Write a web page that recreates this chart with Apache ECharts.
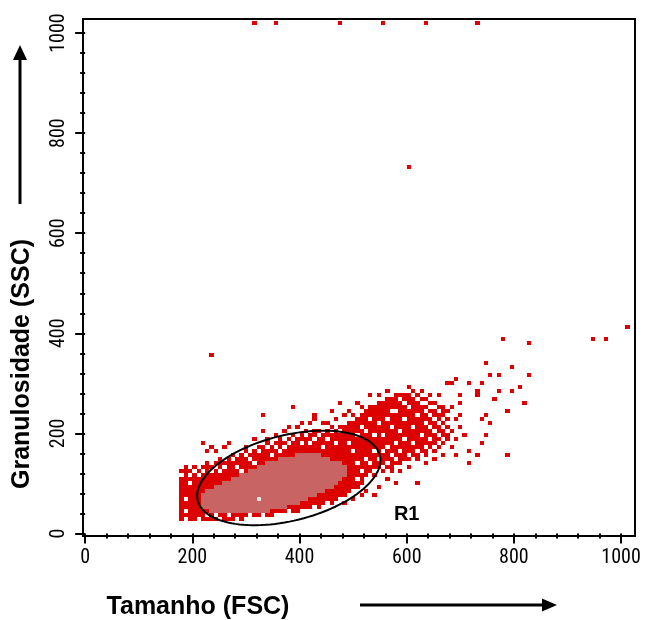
<!DOCTYPE html>
<html><head><meta charset="utf-8">
<script src="https://cdn.jsdelivr.net/npm/echarts@6/dist/echarts.min.js"></script>
<style>html,body{margin:0;padding:0;background:#fff}#chart{width:645px;height:620px}</style>
</head><body><div id="chart"></div>
<script>
// ---- data (channel units, 8-channel bins) ----
const BIN = 8;
const xTickValues = [0, 200, 400, 600, 800, 1000];
const yTickValues = [0, 200, 400, 600, 800, 1000];
const xMinorTicks = [40,80,120,160,240,280,320,360,440,480,520,560,640,680,720,760,840,880,920,960];
const yMinorTicks = [40,80,120,160,240,280,320,360,440,480,520,560,640,680,720,760,840,880,920,960];

// [FSC bin, SSC from, SSC to] – filled (red) columns
const redColumns = [
  [176,24,120],[184,24,128],[192,24,120],[200,24,128],[208,24,120],[216,24,128],[224,24,136],[232,24,128],
  [240,24,136],[248,24,144],[256,24,136],[264,24,144],[272,24,152],[280,24,144],[288,24,152],[296,32,160],
  [304,32,152],[312,32,160],[320,32,168],[328,32,168],[336,32,176],[344,32,168],[352,32,176],[360,40,184],
  [368,40,176],[376,40,184],[384,40,192],[392,40,184],[400,40,192],[408,48,200],[416,48,192],[424,48,200],
  [432,48,200],[440,56,192],[448,56,200],[456,56,208],[464,64,200],[472,64,208],[480,72,208],[488,72,216],
  [496,80,216],[504,88,224],[512,96,232],[520,104,240],[528,112,248],[536,112,248],[544,120,256],[552,120,256],
  [560,128,264],[568,128,264],[576,136,272],[584,136,272],[592,136,272],[600,144,272],[608,144,280],[616,144,272],
  [624,152,264],[632,152,264],[640,160,256],[648,160,264],[656,168,256],[664,168,248],[672,176,240]
];
// high-density (pink) columns
const pinkColumns = [
  [216,48,72],[224,48,80],[232,40,80],[240,40,88],[248,40,88],[256,40,96],[264,40,96],[272,40,104],
  [280,40,104],[288,40,112],[296,40,112],[304,40,120],[312,40,120],[320,40,128],[328,40,128],[336,40,136],
  [344,48,136],[352,48,136],[360,48,144],[368,48,144],[376,56,144],[384,56,144],[392,56,152],[400,64,152],
  [408,64,152],[416,72,152],[424,72,152],[432,80,152],[440,80,144],[448,88,144],[456,88,136],[464,96,136],
  [472,104,136],[480,112,128]
];
// empty bins inside the filled area
const holeCells = [
  [184,64],[184,40],[184,24],[224,32],[264,32],[200,120],[208,112],[240,128],[248,120],[280,128],[288,120],
  [312,136],[344,152],[360,160],[192,96],
  [176,112],[192,112],[216,120],[232,120],[256,128],[272,144],[296,152],[304,144],[320,160],[336,168],
  [352,168],[368,168],[384,184],[376,176],[400,176],[408,192],[424,184],[432,192],[448,184],[456,200],
  [472,200],[464,176],[440,168],[416,176],
  [208,24],[248,24],[280,24],[304,32],[328,32],[352,32],[376,40],[400,40],[424,48],[448,56],[472,64],
  [488,72],[496,80],[240,32],
  [488,176],[496,160],[504,136],[504,104],[512,120],[520,104],[528,112],[528,136],[536,120],[536,160],
  [544,120],[544,144],[552,128],[552,192],[560,136],[560,168],[560,224],[568,152],[568,208],[576,144],
  [576,176],[576,240],[584,160],[584,200],[584,264],[592,136],[592,184],[592,224],[600,152],[600,248],
  [608,144],[608,176],[608,208],[608,272],[616,160],[616,232],[624,152],[624,192],[624,256],[632,168],
  [632,216],[632,240],[640,160],[640,184],[640,208],[640,232],[648,168],[648,200],[648,224],[648,248],
  [656,176],[656,192],[656,216],[656,240],[664,168],[664,184],[664,208],[664,224],[672,176],[672,200],
  [672,216],[672,232],[520,200],[528,224],[512,208],[504,192],[520,144],[536,192],[544,216],[552,160],
  [568,240],[592,256],[616,264],[632,256],[640,248],[648,264],[656,256]
];
// isolated events
const extraCells = [
  [216,176],[232,168],[240,160],[256,168],[224,160],[264,176],[296,168],[312,184],[336,184],[328,200],
  [328,232],[376,208],[384,248],[400,216],[424,224],[424,232],[440,216],[448,216],[456,240],[472,256],
  [488,240],[352,192],[368,200],[392,208],[416,216],[464,224],[480,232],[496,232],[512,248],[528,272],
  [504,256],[544,272],[560,280],[600,288],[624,280],[640,272],[672,296],[656,272],[680,248],[688,224],
  [680,200],[688,184],[696,208],[680,168],[688,152],[704,192],[696,232],
  [512,72],[520,80],[536,72],[544,88],[568,120],[616,96],[560,104],[584,120],[600,128],[632,136],
  [648,144],[664,152],[496,64],[480,56],[576,96],
  [776,384],[824,376],[744,336],[792,328],[752,312],[768,312],[824,312],[688,304],[712,296],[736,296],
  [680,296],[728,280],[768,280],[792,280],[808,288],[816,256],[784,240],[696,256],[744,232],[752,216],
  [736,224],[744,192],[736,176],[728,152],[784,152],[712,160],[712,136],[760,264],[696,272],[728,272],
  [944,384],[968,384],[1008,408],[232,352],[600,728],
  [312,1016],[352,1016],[472,1016],[552,1016],[632,1016],[728,1016]
];
const peakCells = [[320,64]];
// gate R1 (ellipse: centre and two conjugate semi-axes, channel units)
const gateCenter = [380, 111];
const gateAxisA = [170, 45];
const gateAxisB = [19, -83];
const gateLabelPos = [600, 37];
const gateName = 'R1';

// ---- build cell table ----
const cellMap = new Map();
const key = (x, y) => x + ',' + y;
redColumns.forEach(([x, y0, y1]) => { for (let y = y0; y <= y1; y += BIN) cellMap.set(key(x, y), [x, y, 1]); });
extraCells.forEach(([x, y]) => cellMap.set(key(x, y), [x, y, 1]));
holeCells.forEach(([x, y]) => cellMap.delete(key(x, y)));
pinkColumns.forEach(([x, y0, y1]) => { for (let y = y0; y <= y1; y += BIN) cellMap.set(key(x, y), [x, y, 2]); });
peakCells.forEach(([x, y]) => cellMap.set(key(x, y), [x, y, 3]));
const cells = Array.from(cellMap.values());
const LEVEL_COLORS = ['#ffffff', '#dd0000', '#c96464', '#e4e4e4'];

const NARROW = '"Roboto Condensed", "Liberation Sans Narrow", "DejaVu Sans Condensed", sans-serif';
const BOLD = '"Liberation Sans", Arial, sans-serif';

const chart = echarts.init(document.getElementById('chart'), null, { renderer: 'canvas' });
const axisCommon = (min, max) => ({
  type: 'value', min, max, splitLine: { show: false }, axisLine: { show: false }
});
const plain = v => String(v);
chart.setOption({
  animation: false,
  backgroundColor: '#ffffff',
  grid: { left: 83, top: 19, width: 552, height: 517, show: true, borderColor: '#000', borderWidth: 2, backgroundColor: 'transparent' },
  xAxis: [
    Object.assign(axisCommon(-4, 1026), {
      position: 'bottom',
      axisTick: { show: true, customValues: xTickValues, length: 10, lineStyle: { color: '#000', width: 2 } },
      axisLabel: { show: true, customValues: xTickValues, formatter: plain, fontSize: 20, fontFamily: NARROW, color: '#000', margin: 12 }
    }),
    Object.assign(axisCommon(-4, 1026), {
      position: 'bottom',
      axisTick: { show: true, customValues: xMinorTicks, length: 5, lineStyle: { color: '#000', width: 2 } },
      axisLabel: { show: false }
    })
  ],
  yAxis: [
    Object.assign(axisCommon(-5, 1028), {
      position: 'left',
      axisTick: { show: true, customValues: yTickValues, length: 10, lineStyle: { color: '#000', width: 2 } },
      axisLabel: { show: true, customValues: yTickValues, formatter: plain, rotate: 90, fontSize: 20, fontFamily: NARROW, color: '#000', margin: 14 }
    }),
    Object.assign(axisCommon(-5, 1028), {
      position: 'left',
      axisTick: { show: true, customValues: yMinorTicks, length: 5, lineStyle: { color: '#000', width: 2 } },
      axisLabel: { show: false }
    })
  ],
  series: [
    {
      type: 'custom', name: 'events', xAxisIndex: 0, yAxisIndex: 0, z: 2,
      data: cells,
      encode: { x: 0, y: 1 },
      renderItem: function (params, api) {
        const x = api.value(0), y = api.value(1), lv = api.value(2);
        const p0 = api.coord([x, y + BIN]);
        const p1 = api.coord([x + BIN, y]);
        const x0 = Math.round(p0[0]), y0 = Math.round(p0[1]);
        const x1 = Math.round(p1[0]), y1 = Math.round(p1[1]);
        return { type: 'rect', shape: { x: x0, y: y0, width: x1 - x0, height: y1 - y0 }, style: { fill: LEVEL_COLORS[lv] } };
      }
    },
    {
      type: 'custom', name: 'gate', xAxisIndex: 0, yAxisIndex: 0, z: 5,
      data: [[gateCenter[0], gateCenter[1]]],
      encode: { x: 0, y: 1 },
      renderItem: function (params, api) {
        const pts = [];
        const N = 120;
        for (let i = 0; i < N; i++) {
          const t = i / N * Math.PI * 2;
          pts.push(api.coord([
            gateCenter[0] + gateAxisA[0] * Math.cos(t) + gateAxisB[0] * Math.sin(t),
            gateCenter[1] + gateAxisA[1] * Math.cos(t) + gateAxisB[1] * Math.sin(t)
          ]));
        }
        const lp = api.coord(gateLabelPos);
        return {
          type: 'group', children: [
            { type: 'polygon', shape: { points: pts }, style: { fill: 'none', stroke: '#000', lineWidth: 2 } },
            { type: 'text', x: lp[0], y: lp[1], style: { text: gateName, font: 'bold 20px ' + BOLD, fill: '#000', align: 'center', verticalAlign: 'middle', textAlign: 'center', textVerticalAlign: 'middle' } }
          ]
        };
      }
    }
  ],
  graphic: [
    { type: 'text', x: 198, y: 607, style: { text: 'Tamanho (FSC)', font: 'bold 25px ' + BOLD, fill: '#000', align: 'center', verticalAlign: 'middle', textAlign: 'center', textVerticalAlign: 'middle' } },
    { type: 'text', x: 22, y: 364, rotation: Math.PI / 2, style: { text: 'Granulosidade (SSC)', font: 'bold 25px ' + BOLD, fill: '#000', align: 'center', verticalAlign: 'middle', textAlign: 'center', textVerticalAlign: 'middle' } },
    { type: 'line', shape: { x1: 20, y1: 204, x2: 20, y2: 58 }, style: { stroke: '#000', lineWidth: 3 } },
    { type: 'polygon', shape: { points: [[20, 45], [13, 60], [27, 60]] }, style: { fill: '#000' } },
    { type: 'line', shape: { x1: 360, y1: 605, x2: 543, y2: 605 }, style: { stroke: '#000', lineWidth: 3 } },
    { type: 'polygon', shape: { points: [[557, 605], [542, 598.5], [542, 611.5]] }, style: { fill: '#000' } }
  ]
});
</script></body></html>
